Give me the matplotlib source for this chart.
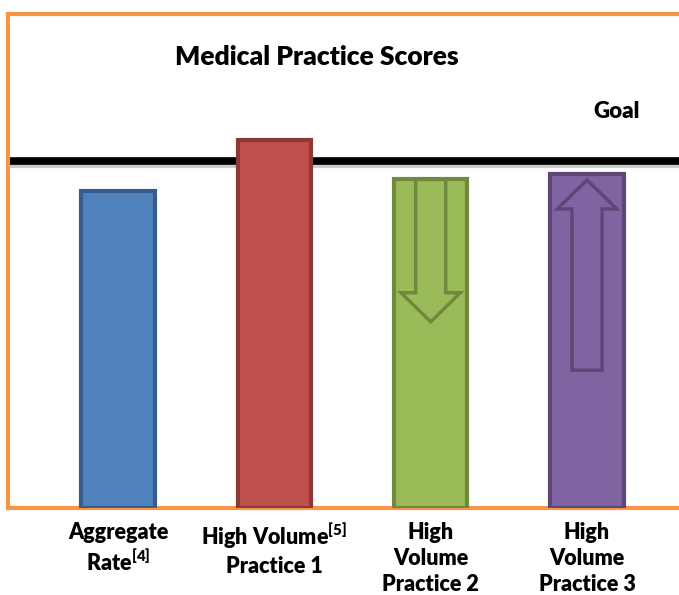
import numpy as np
import matplotlib
matplotlib.use("Agg")
import matplotlib.pyplot as plt
from matplotlib.patches import Polygon

plt.rcParams['font.family'] = ['Lato', 'DejaVu Sans']
plt.rcParams['font.weight'] = 'heavy'
plt.rcParams['mathtext.fontset'] = 'custom'
plt.rcParams['mathtext.rm'] = 'Lato:heavy'
plt.rcParams['mathtext.bf'] = 'Lato:heavy'

# data
categories = ["Aggregate\nRate$^{\\mathrm{[4]}}$",
              "High Volume$^{\\mathrm{[5]}}$\nPractice 1",
              "High\nVolume\nPractice 2",
              "High\nVolume\nPractice 3"]
scores = [64.2, 74.5, 66.5, 67.6]
goal = 70.2
fill_colors = ["#4F81BD", "#C0504D", "#9BBB59", "#8064A2"]
edge_colors = ["#385D8A", "#8C3836", "#71893F", "#5C4776"]
# trend arrows inside bars: (bar index, tail y, tip y)
arrows = [(2, 66.5, 37.7), (3, 27.9, 66.4)]

fig = plt.figure(figsize=(6.79, 5.95), dpi=100)
ax = fig.add_axes([8 / 679, 1 - 508 / 595, 690 / 679, (508 - 14) / 595])

x = np.arange(len(scores))
ax.axhline(goal - 0.9, color="#999999", lw=3, alpha=0.5, zorder=1)
ax.axhline(goal, color="black", lw=5.5, zorder=2)
ax.bar(x, scores, width=0.47, color=fill_colors, edgecolor=edge_colors,
       linewidth=3, zorder=3)

for i, tail, tip in arrows:
    c = x[i]
    sw, hw = 0.096, 0.19
    d = np.sign(tip - tail)
    head = tip - d * 29.0 * 100 / 494
    pts = [(c - sw, tail), (c - sw, head), (c - hw, head), (c, tip),
           (c + hw, head), (c + sw, head), (c + sw, tail)]
    ax.add_patch(Polygon(pts, closed=True, facecolor=fill_colors[i],
                         edgecolor=edge_colors[i], lw=2.5, zorder=4))

ax.set_xlim(-0.704, 3.71)
ax.set_ylim(0, 100)
ax.set_yticks([])
ax.set_xticks(x)
ax.set_xticklabels(categories, fontsize=15.5, fontweight='heavy', linespacing=1.3)
ax.tick_params(axis='x', length=0, pad=10)
for s in ax.spines.values():
    s.set_color("#F79646")
    s.set_linewidth(3)

fig.text(317 / 679, 1 - 57 / 595, "Medical Practice Scores", ha="center",
         va="center", fontsize=19, fontweight="heavy")
fig.text(617 / 679, 1 - 112 / 595, "Goal", ha="center", va="center",
         fontsize=16, fontweight="heavy")

fig.savefig("out.png", dpi=100)
